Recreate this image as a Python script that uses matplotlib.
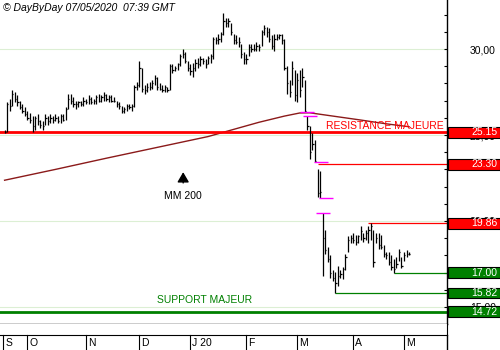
import numpy as np
import matplotlib
matplotlib.use('Agg')
import matplotlib.pyplot as plt
from matplotlib.patches import Rectangle

plt.rcParams['font.family'] = ['Liberation Sans', 'DejaVu Sans']

# daily bars, 18/09/2019 -> 06/05/2020 (trading day index)
highs = [25.3, 26.9, 27.1, 27.6, 27.5, 27.3, 27.0, 26.8, 26.6, 26.4,
         26.3, 26.1, 26.1, 26.2, 25.9, 25.8, 26.2, 26.1, 26.2, 26.1,
         26.2, 26.1, 26.2, 26.2, 26.6, 27.4, 27.4, 27.2, 27.0, 27.0,
         27.0, 27.2, 27.1, 27.3, 27.2, 27.1, 27.3, 27.4, 27.3, 27.5,
         27.4, 27.3, 27.3, 27.2, 27.0, 26.9, 26.7, 26.6, 26.8, 26.8,
         26.8, 27.9, 28.1, 29.3, 28.9, 27.9, 28.0, 28.1, 28.2, 28.5,
         28.4, 28.0, 27.9, 27.9, 27.8, 29.1, 29.1, 29.0, 29.2, 29.7,
         30.0, 29.8, 29.3, 29.1, 29.2, 29.4, 29.5, 29.6, 29.5, 29.4,
         29.6, 29.7, 30.7, 30.7, 30.9, 31.0, 32.1, 31.8, 31.8, 31.5,
         30.9, 30.8, 30.7, 30.3, 29.8, 29.7, 30.3, 30.3, 30.3, 30.4,
         30.3, 31.1, 31.4, 31.3, 31.2, 30.8, 30.9, 30.9, 30.9, 30.9,
         30.6, 29.0, 28.2, 29.3, 28.8, 28.6, 28.8, 28.9, 28.2, 26.1,
         25.5, 25.1, 24.7, 23.0, 22.9, 20.49, 19.5, 18.5, 18.0, 17.15,
         17.05, 17.4, 17.15, 17.3, 18.1, 19.1, 19.2, 19.3, 19.2, 19.2,
         19.7, 19.3, 19.5, 19.7, 19.86, 19.5, 19.3, 19.3, 19.2, 18.6,
         18.2, 18.2, 18.0, 17.8, 17.9, 18.4, 17.9, 18.2, 18.3, 18.2]
lows = [25.1, 25.2, 26.4, 26.7, 26.9, 26.7, 26.5, 26.3, 26.1, 25.9,
        25.7, 25.2, 25.3, 25.6, 25.4, 25.3, 25.6, 25.6, 25.7, 25.7,
        25.8, 25.7, 25.7, 25.8, 25.9, 26.5, 26.8, 26.6, 26.5, 26.6,
        26.7, 26.7, 26.8, 26.8, 26.8, 26.8, 26.8, 26.9, 26.9, 27.0,
        27.0, 26.9, 26.9, 26.9, 26.6, 26.5, 26.3, 26.3, 26.4, 26.5,
        26.4, 26.6, 27.6, 27.8, 27.5, 27.4, 27.5, 27.6, 27.7, 27.9,
        27.6, 27.6, 27.5, 27.5, 27.5, 27.6, 28.6, 28.7, 28.8, 29.0,
        29.5, 29.2, 28.7, 28.5, 28.4, 28.7, 28.9, 29.0, 29.1, 28.9,
        29.1, 29.2, 29.4, 30.3, 30.3, 30.4, 30.8, 31.3, 31.3, 30.8,
        30.3, 30.3, 30.1, 29.5, 29.1, 29.1, 29.6, 29.8, 29.9, 29.9,
        29.9, 30.2, 30.8, 30.7, 30.4, 30.0, 29.9, 30.5, 30.6, 30.3,
        28.8, 27.4, 27.2, 27.9, 27.0, 26.9, 27.2, 27.8, 26.32, 25.3,
        23.6, 24.1, 23.41, 21.4, 21.34, 16.8, 18.1, 17.6, 16.7, 16.5,
        15.82, 16.2, 16.7, 16.6, 17.15, 18.2, 18.7, 18.7, 18.6, 18.7,
        18.9, 18.8, 18.9, 18.7, 18.9, 17.3, 18.7, 18.4, 18.4, 17.9,
        17.8, 17.45, 17.15, 17.0, 17.25, 17.7, 17.25, 17.7, 17.9, 18.0]
closes = [25.2, 26.8, 26.7, 27.4, 27.1, 26.9, 26.6, 26.4, 26.2, 26.0,
          25.9, 25.5, 26.0, 25.8, 25.6, 25.5, 26.0, 25.8, 26.0, 25.9,
          26.0, 25.8, 26.1, 25.9, 26.5, 27.1, 27.0, 26.8, 26.8, 26.9,
          26.8, 27.0, 26.9, 27.1, 26.9, 27.0, 27.2, 27.0, 27.2, 27.3,
          27.1, 27.2, 27.0, 27.0, 26.8, 26.7, 26.4, 26.5, 26.7, 26.6,
          26.7, 27.8, 27.9, 28.9, 27.7, 27.6, 27.8, 27.8, 28.0, 28.3,
          27.8, 27.7, 27.6, 27.8, 27.6, 29.0, 28.8, 28.9, 29.1, 29.6,
          29.7, 29.3, 28.9, 28.7, 28.9, 29.2, 29.1, 29.4, 29.3, 29.1,
          29.5, 29.6, 30.6, 30.5, 30.6, 30.9, 31.6, 31.5, 31.6, 31.0,
          30.5, 30.4, 30.4, 29.7, 29.4, 29.4, 30.1, 30.0, 30.0, 30.2,
          30.1, 31.0, 31.2, 31.0, 30.6, 30.2, 30.6, 30.7, 30.8, 30.5,
          28.9, 28.0, 27.5, 28.9, 27.3, 28.2, 27.6, 28.4, 26.4, 25.5,
          24.0, 24.5, 23.5, 21.6, 21.7, 19.0, 18.3, 17.8, 17.0, 16.7,
          16.4, 16.8, 16.9, 17.2, 17.9, 18.9, 19.0, 18.9, 18.8, 19.1,
          19.4, 19.0, 19.3, 19.5, 19.7, 17.6, 19.0, 18.6, 18.5, 18.1,
          18.0, 17.6, 17.3, 17.2, 17.5, 18.2, 17.4, 18.0, 18.1, 18.1]

# MM 200
ma_idx = [0, 20, 40, 60, 80, 100, 110, 116, 120, 130, 140, 150, 159]
ma_vals = [22.37, 23.0, 23.65, 24.28, 24.91, 25.74, 26.10, 26.28, 26.29,
           26.08, 25.87, 25.65, 25.48]

month_labels = ['S', 'O', 'N', 'D', 'J 20', 'F', 'M', 'A', 'M']
month_starts = [-0.6, 9, 32, 53, 73, 95, 115, 137, 157]

resistance = 25.15
support = 14.72
level_vals = [23.30, 19.86, 17.00, 15.82]
level_from = [123, 143, 153, 130]
level_cols = ['#ff0000', '#ff0000', '#008000', '#008000']

box_vals = [25.15, 23.30, 19.86, 17.00, 15.82, 14.72]
box_cols = ['#ff0000', '#ff0000', '#ff0000', '#008000', '#008000', '#008000']

gap_vals = [26.32, 26.10, 23.41, 21.34, 20.49]
gap_from = [116.3, 117.2, 121.8, 123.4, 122.6]

W, H = 500, 350
fig = plt.figure(figsize=(5, 3.5), dpi=100)
fig.patch.set_facecolor('white')

ax = fig.add_axes([0, 26 / H, 447 / W, 324 / H])
ax.set_xlim(-1.8, 173.9)
ax.set_ylim(14.01, 32.85)
xmax = ax.get_xlim()[1]

for v in [15, 20, 25, 30]:
    ax.axhline(v, color='#dcefd4', lw=0.8, zorder=0)

x = np.arange(len(closes))
ax.vlines(x, lows, highs, color='black', lw=0.9, zorder=3)
ax.hlines(closes, x, x + 0.5, color='black', lw=0.9, zorder=3)

ax.plot(ma_idx, ma_vals, color='#8b1a1a', lw=1.0, zorder=2)

ax.axhline(resistance, color='#ff0000', lw=2.0, zorder=2)
ax.axhline(support, color='#008000', lw=2.0, zorder=2)
ax.hlines(level_vals, level_from, xmax, colors=level_cols, lw=0.9, zorder=2)
ax.hlines(gap_vals, gap_from, np.array(gap_from) + 5.5, color='#ff00ff', lw=1.0, zorder=4)

ax.text(0.993, 25.55, 'RESISTANCE MAJEURE', transform=ax.get_yaxis_transform(),
        ha='right', va='center', color='#ff0000', fontsize=7.5)
ax.text(0.4575, 15.4, 'SUPPORT MAJEUR', transform=ax.get_yaxis_transform(),
        ha='center', va='center', color='#008000', fontsize=7.5)
ax.text(70.2, 21.45, 'MM 200', ha='center', va='center', fontsize=7.5)
ax.annotate('', xy=(70.2, 23.0), xytext=(70.2, 22.05),
            arrowprops=dict(arrowstyle='-|>,head_width=0.35,head_length=0.6',
                            color='black', lw=1.0))

for s in ['left', 'top']:
    ax.spines[s].set_visible(False)
ax.spines['right'].set_linewidth(1.0)
ax.spines['bottom'].set_linewidth(1.0)
ax.set_xticks([])
ax.yaxis.tick_right()
ax.set_yticks([15, 20, 25, 30])
ax.set_yticklabels(['15,00', '20,00', '25,00', '30,00'])
ax.set_yticks(np.arange(15, 33), minor=True)
ax.tick_params(axis='y', which='both', direction='in', length=2.5, width=0.8,
               pad=16.5, labelsize=7.5)

for v, c in zip(box_vals, box_cols):
    ax.add_patch(Rectangle((1.0015, v - 0.31), 0.1163, 0.62,
                           transform=ax.get_yaxis_transform(), clip_on=False,
                           facecolor=c, edgecolor='black', lw=0.8, zorder=5))
    ax.text(1.112, v, f'{v:.2f}', transform=ax.get_yaxis_transform(),
            ha='right', va='center', color='white', fontsize=7.5, zorder=6,
            clip_on=False)

# empty strip + month row
ax2 = fig.add_axes([0, 15 / H, 447 / W, 11 / H])
ax2.set_xlim(ax.get_xlim())
ax2.set_ylim(0, 1)
ax2.set_xticks([])
ax2.set_yticks([])
for s in ['left', 'top']:
    ax2.spines[s].set_visible(False)
tr = ax2.get_xaxis_transform()
for p, lab in zip(month_starts, month_labels):
    ax2.plot([p, p], [0, -15 / 11], color='black', lw=0.8, transform=tr, clip_on=False)
    ax2.text(p + 0.8, -0.7, lab, transform=tr, ha='left', va='center', fontsize=7.5)
ax2.plot([1, 1], [0, -15 / 11], color='black', lw=1.0, transform=ax2.transAxes, clip_on=False)

fig.text(3 / W, 1 - 8 / H, '\u00a9 DayByDay 07/05/2020  07:39 GMT', style='italic',
         fontsize=7.5, va='center', ha='left')

fig.savefig('out.png', dpi=100)
